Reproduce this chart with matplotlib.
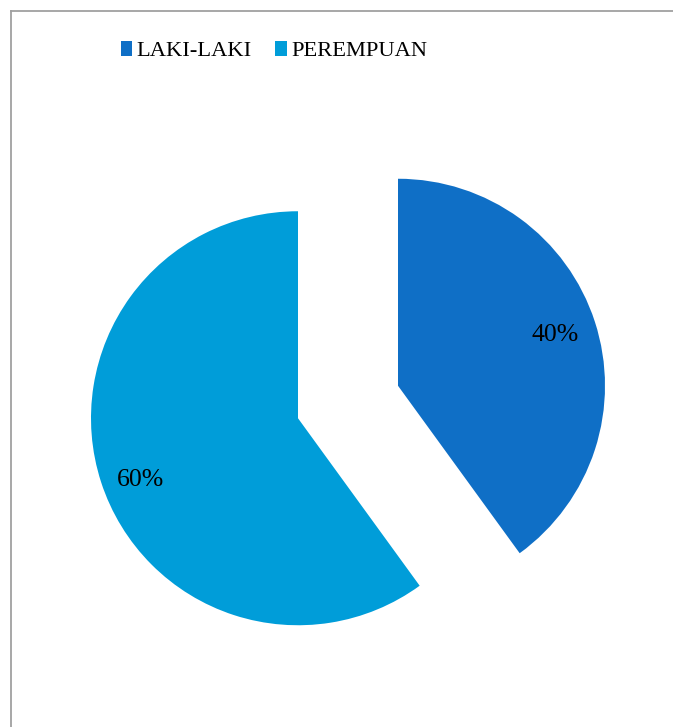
import matplotlib.pyplot as plt
from matplotlib.lines import Line2D
from matplotlib.patches import Patch

# Gender split shown as an exploded pie
labels = ["LAKI-LAKI", "PEREMPUAN"]
shares = [40, 60]
colors = ["#0F6FC6", "#009DD9"]

W, H, DPI = 673, 727, 100
R_PX = 207.0          # pie radius in pixels
CX, CY = 348.0, 402.0  # unexploded pie centre (pixels from top-left)

plt.rcParams["font.family"] = ["Liberation Serif", "DejaVu Serif"]

fig = plt.figure(figsize=(W / DPI, H / DPI), dpi=DPI)
ax = fig.add_axes([0, 0, 1, 1])

wedges, texts, autotexts = ax.pie(
    shares,
    colors=colors,
    startangle=90,
    counterclock=False,
    explode=[0.254, 0.254],
    radius=1.0,
    autopct="%1.0f%%",
    pctdistance=0.8,
    frame=True,
    textprops=dict(fontsize=18.5, color="black"),
)
# nudge the larger slice's label a little further round
x, y = autotexts[1].get_position()
autotexts[1].set_position((x, y - 0.05))

ax.set_xlim(-CX / R_PX, (W - CX) / R_PX)
ax.set_ylim(-(H - CY) / R_PX, CY / R_PX)
ax.set_aspect("auto")
ax.axis("off")

handles = [Patch(facecolor=c, edgecolor="none") for c in colors]
fig.legend(
    handles, labels,
    loc="center",
    bbox_to_anchor=(274 / W, 1 - 51 / H),
    ncol=2,
    frameon=False,
    fontsize=16.2,
    handlelength=0.5,
    handleheight=0.7,
    handletextpad=0.2,
    columnspacing=1.05,
)

# Chart-area border (top and left edges visible)
border = dict(color="#A0A0A0", linewidth=1.3, transform=fig.transFigure)
fig.add_artist(Line2D([10.5 / W, 10.5 / W], [0, 1 - 11 / H], **border))
fig.add_artist(Line2D([10.5 / W, 1], [1 - 11 / H, 1 - 11 / H], **border))

fig.savefig("out.png", dpi=DPI)
